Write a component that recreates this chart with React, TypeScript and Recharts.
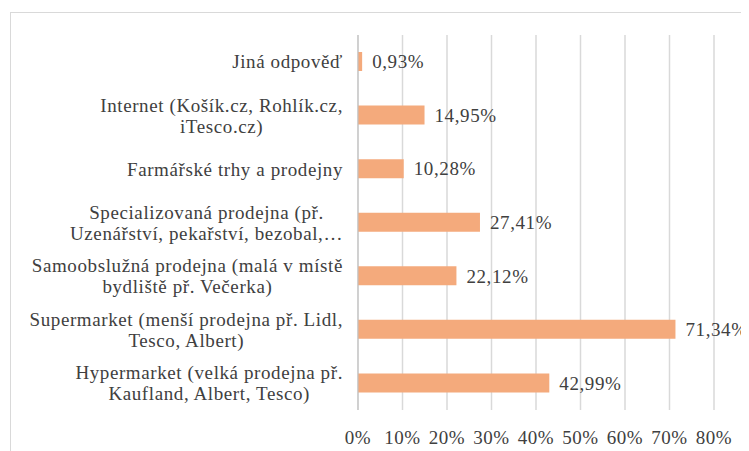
import { BarChart, Bar, XAxis, YAxis, CartesianGrid, LabelList } from "recharts";

const categories = [
  "Jiná odpověď",
  "Internet (Košík.cz, Rohlík.cz,\niTesco.cz)",
  "Farmářské trhy a prodejny",
  "Specializovaná prodejna (př.\nUzenářství, pekařství, bezobal,…",
  "Samoobslužná prodejna (malá v místě\nbydliště př. Večerka)",
  "Supermarket (menší prodejna př. Lidl,\nTesco, Albert)",
  "Hypermarket (velká prodejna př.\nKaufland, Albert, Tesco)",
];
const shares = [0.93, 14.95, 10.28, 27.41, 22.12, 71.34, 42.99];
const xTicks = [0, 10, 20, 30, 40, 50, 60, 70, 80];

const data = categories.map((name, i) => ({ name, value: shares[i] }));

const FONT = "Liberation Serif, Tinos, DejaVu Serif, serif";
const FONT_SIZE = 19;
const SPACING = 0.6;
const TEXT_COLOR = "#404040";
const BAR_COLOR = "#F4AA7C";

let ctx: CanvasRenderingContext2D | null = null;
function measure(text: string): number {
  if (!ctx) {
    ctx = document.createElement("canvas").getContext("2d");
  }
  if (!ctx) return text.length * FONT_SIZE * 0.45;
  ctx.font = `${FONT_SIZE}px ${FONT}`;
  return ctx.measureText(text).width + text.length * SPACING;
}

function CategoryTick(props: any) {
  const { x, y, payload } = props;
  const lines: string[] = String(payload.value).split("\n");
  const widths = lines.map(measure);
  const blockW = Math.max(...widths);
  const right = x - 7;
  const cx = right - blockW / 2;
  const lineH = 21;
  const startY = y - ((lines.length - 1) * lineH) / 2;
  return (
    <g>
      {lines.map((line, i) => (
        <text
          key={i}
          x={cx}
          y={startY + i * lineH}
          dy="0.35em"
          textAnchor="middle"
          fill={TEXT_COLOR}
          style={{ fontSize: FONT_SIZE, fontFamily: FONT, letterSpacing: SPACING }}
        >
          {line}
        </text>
      ))}
    </g>
  );
}

export default function App() {
  return (
    <div style={{ position: "relative", width: 741, height: 443, overflow: "hidden", fontFamily: FONT }}>
      <div
        style={{
          position: "absolute",
          left: 2,
          top: 4,
          width: 800,
          height: 500,
          border: "1px solid #d9d9d9",
          boxSizing: "border-box",
        }}
      />
      <div style={{ position: "absolute", left: 0, top: 0 }}>
        <BarChart
          width={780}
          height={443}
          data={data}
          layout="vertical"
          margin={{ top: 27, right: 74, left: 10, bottom: 11 }}
          barSize={19}
          style={{ fontFamily: FONT, overflow: "visible" }}
        >
          <CartesianGrid horizontal={false} stroke="#d9d9d9" strokeWidth={1.5} />
          <XAxis
            type="number"
            domain={[0, 80]}
            ticks={xTicks}
            tickFormatter={(v) => `${v}%`}
            axisLine={false}
            tickLine={false}
            tickMargin={15}
            height={30}
            interval={0}
            tick={{ fill: TEXT_COLOR, fontSize: FONT_SIZE, fontFamily: FONT, letterSpacing: SPACING }}
          />
          <YAxis
            type="category"
            dataKey="name"
            width={340}
            axisLine={{ stroke: "#bfbfbf" }}
            tickLine={false}
            interval={0}
            tick={<CategoryTick />}
          />
          <Bar dataKey="value" fill={BAR_COLOR} isAnimationActive={false}>
            <LabelList
              dataKey="value"
              position="right"
              offset={10}
              formatter={(v: any) => `${Number(v).toFixed(2).replace(".", ",")}%`}
              fill={TEXT_COLOR}
              fontSize={FONT_SIZE}
              fontFamily={FONT}
              style={{ letterSpacing: SPACING }}
            />
          </Bar>
        </BarChart>
      </div>
    </div>
  );
}
